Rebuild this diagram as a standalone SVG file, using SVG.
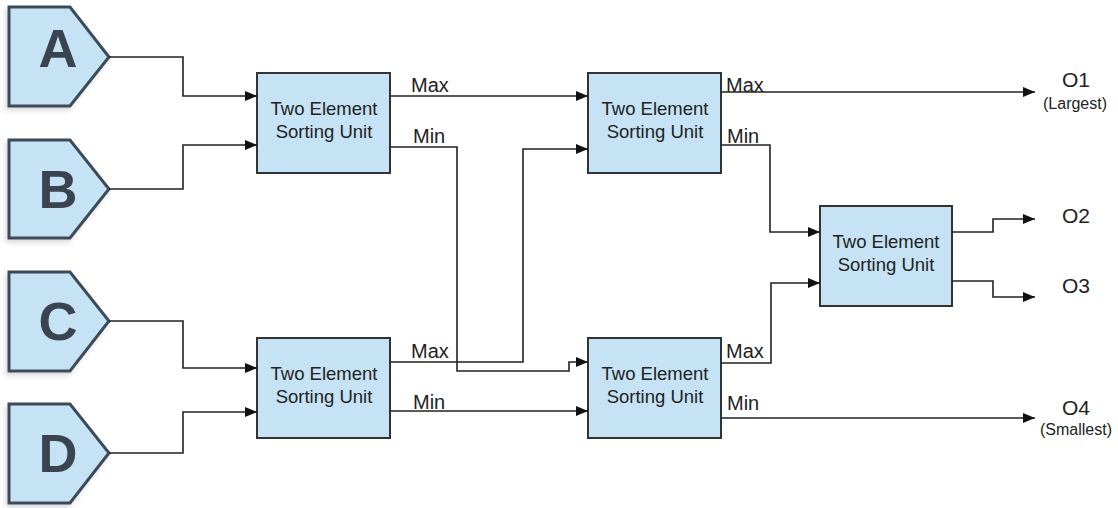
<svg xmlns="http://www.w3.org/2000/svg" width="1118" height="508" viewBox="0 0 1118 508">
  <style>
    .inp { fill: #c5e3f5; stroke: #3e4b58; stroke-width: 3; stroke-linejoin: miter; }
    .letter { font-family: "Liberation Sans", Arial, sans-serif; font-weight: bold; font-size: 54px; fill: #3a4450; text-anchor: middle; }
    .unit { fill: #c5e3f5; stroke: #333333; stroke-width: 2; }
    .ulabel { font-family: "Liberation Sans", Arial, sans-serif; font-size: 18.5px; fill: #222222; text-anchor: middle; }
    .wire { fill: none; stroke: #222222; stroke-width: 1.6; marker-end: url(#arrow); }
    .wlabel { font-family: "Liberation Sans", Arial, sans-serif; font-size: 20px; fill: #222222; }
    .out { font-family: "Liberation Sans", Arial, sans-serif; font-size: 21px; fill: #222222; }
    .sub { font-family: "Liberation Sans", Arial, sans-serif; font-size: 16px; fill: #222222; }
  </style>
  <defs>
    <marker id="arrow" markerWidth="12" markerHeight="10" refX="12" refY="5" orient="auto" markerUnits="userSpaceOnUse">
      <path d="M0,0 L12,5 L0,10 Z" fill="#111111"/>
    </marker>
    <filter id="shadow" x="-20%" y="-20%" width="140%" height="140%">
      <feDropShadow dx="-2" dy="3" stdDeviation="2.5" flood-color="#000000" flood-opacity="0.15"/>
    </filter>
  </defs>
  <rect width="1118" height="508" fill="#ffffff"/>

  <!-- inputs -->
  <g id="input-a">
    <polygon class="inp" filter="url(#shadow)" points="9,7 70,7 109,57 70,106 9,106"/>
    <text class="letter" x="58" y="67">A</text>
  </g>
  <g id="input-b">
    <polygon class="inp" filter="url(#shadow)" points="9,140 70,140 109,189 70,238 9,238"/>
    <text class="letter" x="58" y="208">B</text>
  </g>
  <g id="input-c">
    <polygon class="inp" filter="url(#shadow)" points="9,272 70,272 109,321 70,371 9,371"/>
    <text class="letter" x="58" y="340">C</text>
  </g>
  <g id="input-d">
    <polygon class="inp" filter="url(#shadow)" points="9,404 70,404 109,453 70,503 9,503"/>
    <text class="letter" x="58" y="472">D</text>
  </g>

  <!-- sorting units -->
  <g id="sort-1">
    <rect class="unit" x="257" y="73" width="133" height="100"/>
    <text class="ulabel" x="324" y="115">Two Element</text>
    <text class="ulabel" x="324" y="138">Sorting Unit</text>
  </g>
  <g id="sort-2">
    <rect class="unit" x="588" y="73" width="133" height="100"/>
    <text class="ulabel" x="655" y="115">Two Element</text>
    <text class="ulabel" x="655" y="138">Sorting Unit</text>
  </g>
  <g id="sort-3">
    <rect class="unit" x="257" y="338" width="133" height="100"/>
    <text class="ulabel" x="324" y="380">Two Element</text>
    <text class="ulabel" x="324" y="403">Sorting Unit</text>
  </g>
  <g id="sort-4">
    <rect class="unit" x="588" y="338" width="133" height="100"/>
    <text class="ulabel" x="655" y="380">Two Element</text>
    <text class="ulabel" x="655" y="403">Sorting Unit</text>
  </g>
  <g id="sort-5">
    <rect class="unit" x="820" y="206" width="132" height="100"/>
    <text class="ulabel" x="886" y="248">Two Element</text>
    <text class="ulabel" x="886" y="271">Sorting Unit</text>
  </g>

  <!-- connectors -->
  <g id="connectors">
    <path class="wire" d="M109,57 H183 V96 H257"/>
    <path class="wire" d="M109,189 H183 V145 H257"/>
    <path class="wire" d="M109,321 H183 V368 H257"/>
    <path class="wire" d="M109,453 H183 V412 H257"/>
    <path class="wire" d="M390,96 H588"/>
    <path class="wire" d="M390,147 H457 V371 H569 V362 H588"/>
    <path class="wire" d="M390,362 H523 V149 H588"/>
    <path class="wire" d="M390,411 H588"/>
    <path class="wire" d="M721,92 H1035"/>
    <path class="wire" d="M721,145 H770 V232 H820"/>
    <path class="wire" d="M721,363 H771 V283 H820"/>
    <path class="wire" d="M721,418 H1035"/>
    <path class="wire" d="M952,232 H993 V219 H1035"/>
    <path class="wire" d="M952,281 H993 V297 H1035"/>
  </g>

  <!-- wire labels -->
  <g id="wire-labels">
    <text class="wlabel" x="411" y="92">Max</text>
    <text class="wlabel" x="413" y="143">Min</text>
    <text class="wlabel" x="411" y="358">Max</text>
    <text class="wlabel" x="413" y="409">Min</text>
    <text class="wlabel" x="726" y="92">Max</text>
    <text class="wlabel" x="727" y="143">Min</text>
    <text class="wlabel" x="726" y="358">Max</text>
    <text class="wlabel" x="727" y="410">Min</text>
  </g>

  <!-- outputs -->
  <g id="outputs">
    <text class="out" x="1062" y="87">O1</text>
    <text class="sub" x="1043" y="109">(Largest)</text>
    <text class="out" x="1062" y="223">O2</text>
    <text class="out" x="1062" y="293">O3</text>
    <text class="out" x="1062" y="415">O4</text>
    <text class="sub" x="1040" y="435">(Smallest)</text>
  </g>
</svg>
